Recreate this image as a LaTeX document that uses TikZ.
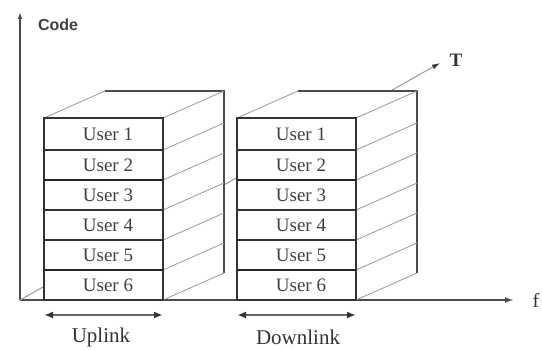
\documentclass[tikz,border=0pt]{standalone}
\usepackage{fontspec}
\setmainfont{Liberation Serif}
\newfontfamily\codefont{Liberation Sans}
\usetikzlibrary{arrows.meta}
\begin{document}
\begin{tikzpicture}[x=1pt,y=-1pt,
  axisline/.style={draw=black!70, line width=1.8pt},
  frontline/.style={draw=black!80, line width=2pt},
  sepline/.style={draw=black!80, line width=1.4pt},
  thicksep/.style={draw=black!85, line width=2.3pt},
  backline/.style={draw=black!70, line width=1.8pt},
  faint/.style={draw=black!40, line width=0.8pt},
  cell/.style={inner sep=0pt, font=\fontsize{19}{19}\selectfont, text=black!75},
  lbl/.style={font=\fontsize{21}{21}\selectfont, text=black!80},
  span/.style={draw=black!60, line width=2.6pt, {Latex[length=9pt,width=7pt,color=black!80]}-{Latex[length=9pt,width=7pt,color=black!80]}}
]
\useasboundingbox (0,0) rectangle (542,350);

\coordinate (O) at (20,300);
\coordinate (Ytop) at (20,12);
\coordinate (Xend) at (514,300);
\coordinate (Tend) at (440,63);

% axes
\draw[axisline, -{Latex[length=7pt,width=5pt]}] (O) -- (Ytop);
\draw[axisline, -{Latex[length=9pt,width=6pt]}] (O) -- (Xend);
% hidden T axis
\draw[faint, line width=1pt, -{Latex[length=8pt,width=5pt,color=black!80]}] (O) -- (Tend);

\node[font=\codefont\bfseries\fontsize{16}{16}\selectfont, text=black!75] (code) at (58,25) {Code};
\node[font=\fontsize{20}{20}\selectfont, text=black!80] (f) at (536,300) {f};
\node[font=\bfseries\fontsize{19}{19}\selectfont, text=black!80] (T) at (456,60) {T};

\foreach \x/\p in {44/L,237/R}{
  % top and side faces
  \fill[white] (\x,118) -- ++(61,-27) -- ++(119,0) -- ++(0,182) -- ++(-61,27) -- ++(-119,0) -- cycle;
  \draw[faint] (\x,118) -- ++(61,-27);
  \draw[backline] (\x+61,91) -- ++(119,0) -- ++(0,182);
  \foreach \y in {118,150,180,210,240,270,300} \draw[faint] (\x+119,\y) -- ++(61,-27);
  % front face
  \draw[frontline, fill=white] (\x,118) rectangle ++(119,182);
  \foreach \y in {150,210,240} \draw[sepline] (\x,\y) -- ++(119,0);
  \foreach \y in {180,270} \draw[thicksep] (\x,\y) -- ++(119,0);
  \foreach \i/\yc in {1/134,2/165,3/195,4/225,5/255,6/285}
    \node[cell] (\p\i) at (\x+64,\yc) {User \i};
}

\coordinate (ua) at (44,315);
\coordinate (ub) at (163,315);
\coordinate (da) at (237,315);
\coordinate (db) at (356,315);
\draw[span] (ua) -- (ub);
\draw[span] (da) -- (db);
\node[lbl] (up) at (101,337) {Uplink};
\node[lbl] (down) at (298,337) {Downlink};
\end{tikzpicture}
\end{document}
